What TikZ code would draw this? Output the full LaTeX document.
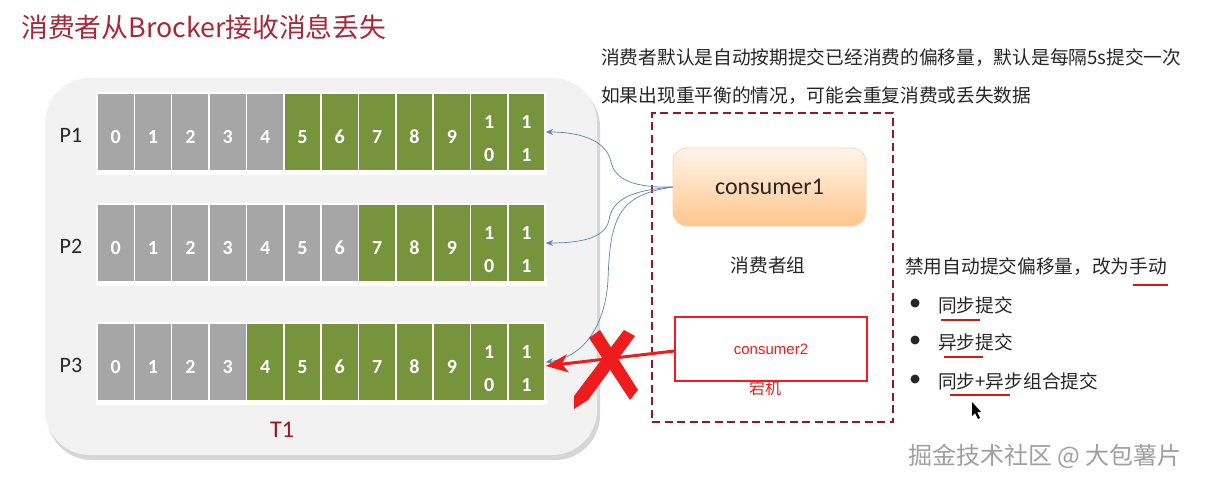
\documentclass[tikz,border=0pt]{standalone}
\usepackage{fontspec}
\newfontfamily\cjk{Noto Sans CJK SC}
\newfontfamily\calfont{Carlito}
\newfontfamily\arialfont{Liberation Sans}
\usetikzlibrary{arrows.meta}
\definecolor{cgray}{HTML}{A6A6A6}
\definecolor{cgreen}{HTML}{77933C}
\definecolor{titlered}{HTML}{A8283A}
\definecolor{boxred}{HTML}{8E1B2C}
\definecolor{t1red}{HTML}{A0141E}
\definecolor{linkblue}{HTML}{5B84B1}
\definecolor{alertred}{HTML}{EE1C1C}
\definecolor{ulred}{HTML}{D01A1A}
\definecolor{textdark}{HTML}{262626}
\definecolor{panel}{HTML}{F2F2F2}
\definecolor{panelshadow}{HTML}{D6D6D6}
\tikzset{
  cjktext/.style={font=\cjk\fontsize{18.7}{20}\selectfont, text=textdark, inner sep=0pt},
  cell/.style={draw=white, line width=1.5pt, minimum width=37.35pt, minimum height=78pt, inner sep=0pt},
  digit/.style={font=\calfont\bfseries\fontsize{20}{21}\selectfont, text=white, inner sep=0pt},
  plabel/.style={font=\calfont\fontsize{22}{24}\selectfont, text=textdark, inner sep=0pt},
  link/.style={draw=linkblue, line width=0.7pt, -{Stealth[length=7pt,width=6pt]}},
  underl/.style={draw=ulred, line width=2.5pt},
}
\begin{document}
\begin{tikzpicture}[x=1pt,y=-1pt]
\fill[white] (0,0) rectangle (1205,487);
\useasboundingbox (0,0) rectangle (1205,487);
% title
\node[anchor=west, font=\cjk\fontsize{26.8}{28}\selectfont, text=titlered, inner sep=0pt] (title) at (21,27) {消费者从Brocker接收消息丢失};
% panel
\fill[panelshadow, rounded corners=45pt] (47,82) rectangle (600,460);
\fill[panel, rounded corners=45pt] (45,78) rectangle (597,455);
% rows
\foreach \r/\y/\g in {1/132/5, 2/243/7, 3/362/4} {
  \fill[white] (96,\y+36) rectangle (547,\y+43);
  \node[plabel] (P\r) at (71,\y+3) {P\r};
  \foreach \i in {0,...,11} {
    \pgfmathsetmacro\xc{97+37.35*\i+18.675}
    \ifnum\i<\g\relax \def\cc{cgray}\else\def\cc{cgreen}\fi
    \node[cell, fill=\cc] (c\r-\i) at (\xc,\y) {};
    \ifnum\i<10\relax
      \node[digit] at (\xc,\y+5) {\i};
    \else
      \node[digit] at (\xc,\y-10) {1};
      \pgfmathtruncatemacro\dd{\i-10}
      \node[digit] at (\xc,\y+23) {\dd};
    \fi
  }
}
\node[font=\calfont\fontsize{24}{26}\selectfont, text=t1red, inner sep=0pt] (T1) at (282,430) {T1};
% group box
\node[draw=boxred, line width=2.4pt, dash pattern=on 8pt off 4.5pt, minimum width=241pt, minimum height=309pt, inner sep=0pt] (grp) at (772.5,267.5) {};
\node[rounded corners=14pt, top color=orange!8, bottom color=orange!45!white, draw=orange!35!white, line width=0.8pt, minimum width=193pt, minimum height=78pt, font=\calfont\fontsize{24}{26}\selectfont, text=textdark] (cons1) at (769.5,187) {consumer1};
\node[cjktext] (grpname) at (768,265) {消费者组};
\node[draw=alertred, line width=1.4pt, fill=white, minimum width=192pt, minimum height=64pt, font=\arialfont\fontsize{15}{17}\selectfont, text=alertred] (cons2) at (771,349) {consumer2};
\node[font=\cjk\fontsize{16}{18}\selectfont, text=alertred, inner sep=0pt] (down) at (765,388) {宕机};
% links
\draw[link] (cons1.west) .. controls (635,188) and (615,180) .. (611,162) .. controls (606,138) and (575,132) .. (c1-11.east);
\draw[link] (cons1.west) .. controls (635,190) and (612,198) .. (609,220) .. controls (605,240) and (575,243) .. (c2-11.east);
\draw[link] (cons1.west) .. controls (620,195) and (610,215) .. (608,280) .. controls (605,330) and (580,358) .. (c3-11.east);
% red arrow
\draw[draw=alertred, line width=3pt, -{Stealth[length=22pt,width=18pt,inset=6pt]}] ([yshift=-2pt]cons2.west) -- ([yshift=-4pt]c3-11.east);
% X mark
\fill[alertred] (589,338) -- (600,330) -- (638,390) -- (630,400) -- cycle;
\fill[alertred] (624,330) -- (635,336) -- (588,400) -- (574,409) -- (574,396) -- cycle;
% right text
\node[cjktext, anchor=west] (rt) at (905,267) {禁用自动提交偏移量，改为手动};
\foreach \k/\yy/\tx in {1/305/同步提交, 2/342/异步提交, 3/381/同步+异步组合提交} {
  \fill[textdark] (915,\yy-2) circle (4.5);
  \node[cjktext, anchor=west] (b\k) at (938,\yy) {\tx};
}
\draw[underl] (1133,285) -- (1168,285);
\draw[underl] (941,320) -- (980,320);
\draw[underl] (944,357) -- (983,357);
\draw[underl] (950,395) -- (1010,395);
% cursor
\fill[black] (972,402) -- (972,416) -- (975,413) -- (978,419) -- (980,418) -- (977,412) -- (981,412) -- cycle;
% top text
\node[cjktext, anchor=west] (top1) at (601,58) {消费者默认是自动按期提交已经消费的偏移量，默认是每隔5s提交一次};
\node[cjktext, anchor=west] (top2) at (601,96) {如果出现重平衡的情况，可能会重复消费或丢失数据};
% watermark
\node[font=\cjk\fontsize{24}{26}\selectfont, text=gray!75, inner sep=0pt] (wm) at (1045,456) {掘金技术社区 @ 大包薯片};
\end{tikzpicture}
\end{document}
